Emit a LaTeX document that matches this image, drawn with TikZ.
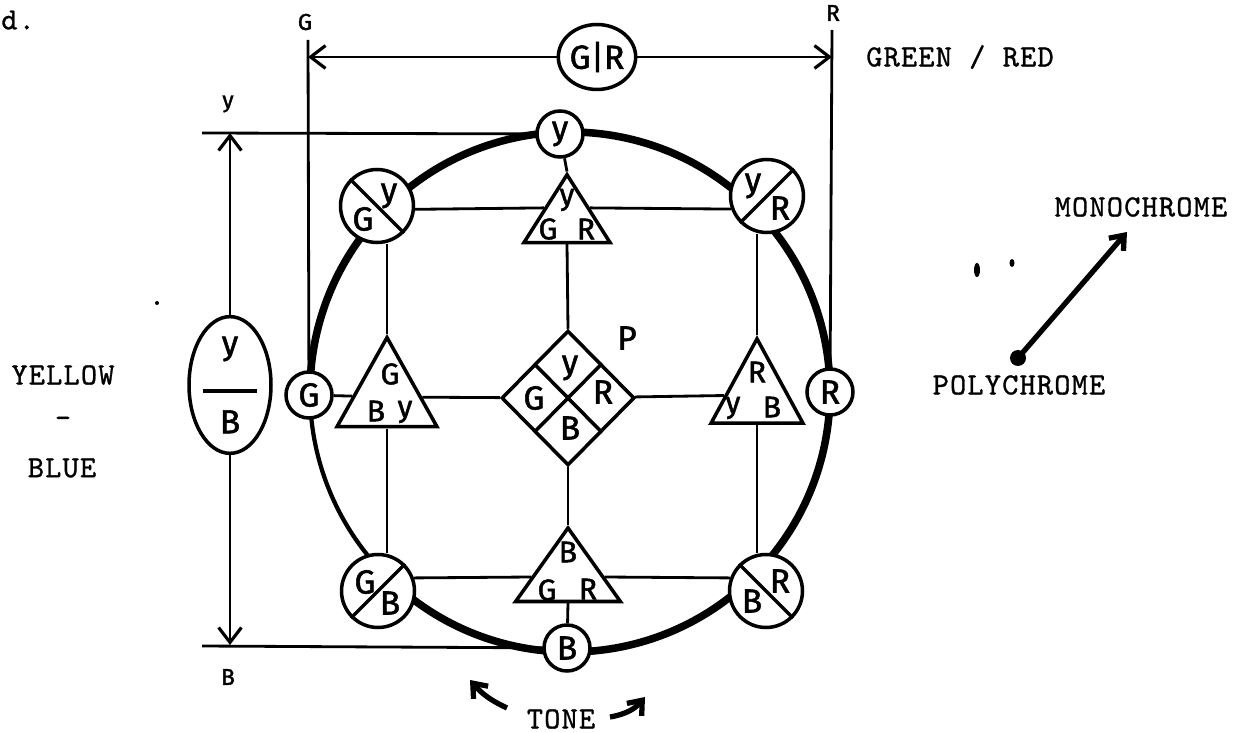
\documentclass[tikz,border=0pt]{standalone}
\usepackage{fontspec}
\newfontfamily\handfont[FakeBold=1.6]{Fira Sans}
\newfontfamily\typefont{lmmono10-regular.otf}[LetterSpace=4, FakeBold=1]
\usetikzlibrary{arrows.meta, shapes.geometric, calc}

\begin{document}
\begin{tikzpicture}[x=0.02cm, y=0.02cm,
  every node/.style={inner sep=0pt},
  hand/.style={font=\handfont\fontsize{17}{17}\selectfont},
  bighand/.style={font=\handfont\fontsize{19}{19}\selectfont},
  smallhand/.style={font=\handfont\fontsize{13}{13}\selectfont},
  typed/.style={font=\typefont\fontsize{17.5}{20}\selectfont},
  ring/.style={circle, draw, line width=2pt, fill=white, minimum size=0.92cm},
  splitc/.style={circle, draw, line width=2pt, fill=white, minimum size=1.46cm},
  oval/.style={ellipse, draw, line width=2pt, fill=white},
  tri/.style={regular polygon, regular polygon sides=3, draw, line width=2pt,
              fill=white, transform shape},
  wire/.style={line width=1.6pt},
  barb/.style={line width=1.6pt, -{Straight Barb[length=8.5pt, width=13pt, line width=1.8pt]}},
  heavy/.style={line width=3pt, -{Straight Barb[length=7pt, width=11pt, line width=3pt]}}
]
\useasboundingbox (0,0) rectangle (1245,-733);

% Colour circle
\coordinate (O) at (570,-392);
\draw[line width=4.3pt] (O) ++(226:260) arc[start angle=226, end angle=540, radius=260];
\draw[line width=2.4pt] (O) ++(180:260) arc[start angle=180, end angle=226, radius=260];

% Free ends of the axes
\coordinate (gtop) at (308,-40);
\coordinate (rtop) at (832,-30);
\coordinate (gtip) at (308,-57);
\coordinate (rtip) at (832,-57);
\coordinate (ytip) at (230,-133);
\coordinate (btip) at (230,-645);
\coordinate (yend) at (202,-133);
\coordinate (bend) at (202,-646);

% Hue nodes on the circle
\node[ring, bighand] (nY) at (560,-134) {y};
\node[ring, bighand] (nG) at (309,-395) {G};
\node[ring, bighand] (nR) at (830,-392) {R};
\node[ring, bighand] (nB) at (567,-648) {B};

% Split circles
\foreach \n/\px/\py/\ea/\eb/\ta/\tax/\tay/\tb/\tbx/\tby in {
    sGY/377/-206/north west/south east/G/-14/-13/y/12/10,
    sYR/767/-196/south west/north east/y/-14/10/R/13/-12,
    sGB/378/-591/south west/north east/G/-13/9/B/12/-12,
    sBR/766/-591/north west/south east/B/-14/-10/R/14/10} {
  \node[splitc] (\n) at (\px,\py) {};
  \draw[line width=2pt] (\n.\ea) -- (\n.\eb);
  \node[bighand] at ([shift={(\tax,\tay)}]\n.center) {\ta};
  \node[bighand] at ([shift={(\tbx,\tby)}]\n.center) {\tb};
}

% Triangles
\foreach \n/\px/\py/\s/\k in {tY/567/-220/1.99/0.91, tG/387/-397/2.31/1.03,
                              tR/757/-395/2.12/1.06, tB/568/-577/2.42/0.81} {
  \begin{scope}[shift={(\px,\py)}, yscale=\k]
    \node[tri, minimum size=\s cm] (\n) at (0,0) {};
  \end{scope}
}
\node[hand] at (567,-200) {y};
\node[hand] at (548,-229) {G};
\node[hand] at (586,-229) {R};
\node[hand] at (390,-374) {G};
\node[hand] at (376,-411) {B};
\node[hand] at (405,-412) {y};
\node[hand] at (757,-372) {R};
\node[hand] at (733,-408) {y};
\node[hand] at (772,-407) {B};
\node[hand] at (568,-552) {B};
\node[hand] at (547,-590) {G};
\node[hand] at (588,-589) {R};

% Polychrome centre
\node[diamond, draw, line width=2pt, fill=white, minimum width=2.66cm,
      minimum height=2.7cm] (P) at (568,-398) {};
\draw[line width=2pt] (P.north west) -- (P.south east);
\draw[line width=2pt] (P.north east) -- (P.south west);
\node[bighand] at (570,-368) {y};
\node[bighand] at (534,-398) {G};
\node[bighand] at (603,-392) {R};
\node[bighand] at (570,-428) {B};
\node[bighand] at (627,-338) {P};

% Axis ovals
\node[oval, bighand, minimum width=1.5cm, minimum height=1.3cm] (GR) at (597,-57) {G|R};
\node[oval, bighand, minimum width=1.64cm, minimum height=2.1cm, align=center] (YB) at (230,-385)
  {y\\[3pt]\rule{1.1cm}{2.2pt}\\[4pt]B};

% Axes
\draw[barb] (GR) -- (gtip);
\draw[barb] (GR) -- (rtip);
\draw[wire] (gtop) -- (nG);
\draw[wire] (rtop) -- (nR);
\draw[barb] (YB) -- (ytip);
\draw[barb] (YB) -- (btip);
\draw[wire] (yend) -- (nY);
\draw[wire] (bend) -- (nB);
\node[smallhand] at (305,-22) {G};
\node[smallhand] at (833,-13) {R};
\node[smallhand] at (228,-104) {y};
\node[smallhand] at (228,-677) {B};

% Inner grid
\draw[wire] (nY) -- (tY.corner 1);
\draw[wire] (tY.south) -- (P.north);
\draw[wire] (P.south) -- (tB.corner 1);
\draw[wire] (tB.south) -- (nB);
\draw[wire] (nG) -- (tG);
\draw[wire] (tG) -- (P);
\draw[wire] (P) -- (tR);
\draw[wire] (sGY.-5) -- (tY.side 1);
\draw[wire] (tY.side 3) -- (sYR.200);
\draw[wire] (sGB.20) -- (tB.west);
\draw[wire] (tB.east) -- (sBR.160);
\draw[wire] (tG.corner 1) -- (tG.corner 1 |- sGY.south);
\draw[wire] (tG.south) -- (tG.south |- sGB.north);
\draw[wire] (tR.corner 1) -- (tR.corner 1 |- sYR.south);
\draw[wire] (tR.south) -- (tR.south |- sBR.north);

% Typed labels
\node[typed, anchor=west] at (1,-20) {d.};
\node[typed] (green) at (960,-57) {GREEN / RED};
\node[typed] (yellow) at (63,-375) {YELLOW};
\node[typed] (dash) at (63,-422) {—};
\node[typed] (blue) at (62,-468) {BLUE};
\node[typed] (tone) at (561,-719) {TONE};
\node[typed] (mono) at (1141,-207) {MONOCHROME};
\node[typed] (poly) at (1019,-385) {POLYCHROME};

% Tone arrows
\coordinate (t1s) at (507,-708);
\coordinate (t1e) at (470,-680);
\coordinate (t2s) at (610,-717);
\coordinate (t2e) at (645,-697);
\draw[heavy] (t1s) to[bend left=12] (t1e);
\draw[heavy] (t2s) to[bend right=20] (t2e);

% Poly -> mono
\coordinate (pdot) at (1018,-358);
\coordinate (mtip) at (1127,-232);
\fill (pdot) circle (8);
\draw[heavy] (pdot) -- (mtip);
\fill (977,-270) ellipse (3 and 7);
\fill (1012,-263) ellipse (2.5 and 4);
\fill (157,-303) circle (2);
\end{tikzpicture}
\end{document}
